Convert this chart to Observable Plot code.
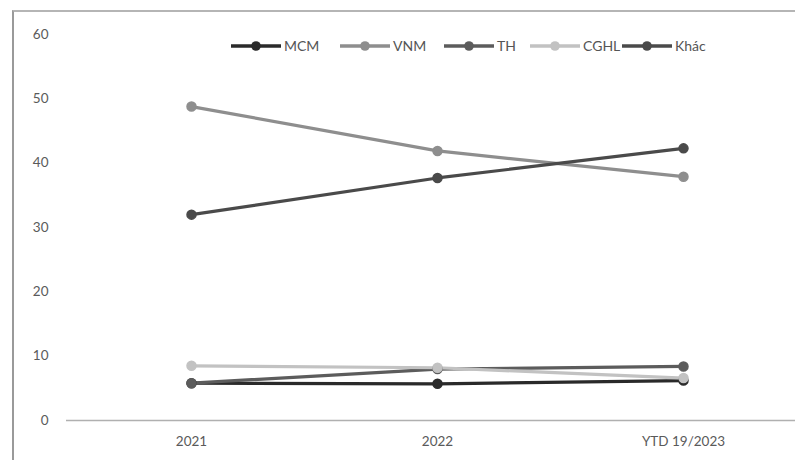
<!DOCTYPE html>
<html>
<head>
<meta charset="utf-8">
<script src="https://cdn.jsdelivr.net/npm/d3@7"></script>
<script src="https://cdn.jsdelivr.net/npm/@observablehq/plot@0.6"></script>
<style>
  html, body { margin: 0; padding: 0; background: #fff; }
  #wrap { position: relative; width: 795px; height: 460px; overflow: hidden; font-family: Lato, "Open Sans", sans-serif; }
  #frame { position: absolute; left: 12px; top: 10px; right: -2px; bottom: -2px; border-left: 2px solid #9a9a9a; border-top: 2px solid #b5b5b5; pointer-events: none; }
  #legend { position: absolute; top: 37px; left: 231px; display: flex; align-items: center; font-size: 14px; color: #555; }
  #legend .item { display: flex; align-items: center; flex: none; }
  #legend svg { margin-right: 3px; }
</style>
</head>
<body>
<div id="wrap">
  <div id="chart"></div>
  <div id="legend"></div>
  <div id="frame"></div>
</div>
<script>
const categories = ["2021", "2022", "YTD 19/2023"];
const seriesNames = ["MCM", "VNM", "TH", "CGHL", "Khác"];
const colors = ["#2a2a2a", "#8e8e8e", "#5c5c5c", "#c2c2c2", "#4a4a4a"];
const MCM  = [5.8, 5.7, 6.2];
const VNM  = [48.8, 41.9, 37.9];
const TH   = [5.8, 8.0, 8.4];
const CGHL = [8.5, 8.2, 6.6];
const Khac = [32.0, 37.7, 42.3];
const yTicks = [0, 10, 20, 30, 40, 50, 60];
const legendItemWidths = [109, 104, 86, 92, 110];

const values = [MCM, VNM, TH, CGHL, Khac];
const data = [];
seriesNames.forEach((s, i) => categories.forEach((c, j) => data.push({series: s, cat: c, value: values[i][j]})));

const chart = Plot.plot({
  width: 795,
  height: 460,
  marginTop: 34,
  marginBottom: 40,
  marginLeft: 66,
  marginRight: 0,
  style: {fontFamily: "Lato, 'Open Sans', sans-serif", fontSize: "13.5px", color: "#5a5a5a", background: "transparent"},
  x: {type: "point", domain: categories, padding: 0.476, align: 0.528, label: null, tickSize: 0, tickPadding: 16},
  y: {domain: [0, 60], ticks: yTicks, label: null, tickSize: 0, tickPadding: 18},
  color: {domain: seriesNames, range: colors},
  marks: [
    Plot.ruleY([0], {stroke: "#b0b0b0", strokeWidth: 1.5}),
    Plot.line(data, {x: "cat", y: "value", z: "series", stroke: "series", strokeWidth: 3.2}),
    Plot.dot(data, {x: "cat", y: "value", fill: "series", stroke: "series", r: 4.5})
  ]
});
document.getElementById("chart").appendChild(chart);

const legend = document.getElementById("legend");
seriesNames.forEach((s, i) => {
  const item = document.createElement("div");
  item.className = "item";
  item.style.width = legendItemWidths[i] + "px";
  item.innerHTML = `<svg width="50" height="12"><line x1="0" y1="6" x2="50" y2="6" stroke="${colors[i]}" stroke-width="3.6"/><circle cx="25" cy="6" r="4.8" fill="${colors[i]}"/></svg><span>${s}</span>`;
  legend.appendChild(item);
});
</script>
</body>
</html>
